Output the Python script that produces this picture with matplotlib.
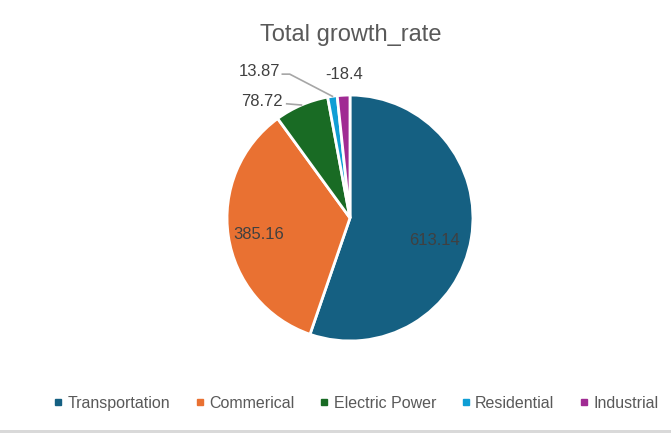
import numpy as np
import matplotlib
matplotlib.use('Agg')
import matplotlib.pyplot as plt
from matplotlib.lines import Line2D
from matplotlib.patches import Rectangle

# --- dane ---
categories = ['Transportation', 'Commerical', 'Electric Power', 'Residential', 'Industrial']
values = [613.14, 385.16, 78.72, 13.87, -18.4]
colors = ['#156082', '#E97132', '#196B24', '#0F9ED5', '#A02B93']
label_texts = ['613.14', '385.16', '78.72', '13.87', '-18.4']

plt.rcParams['font.family'] = ['Liberation Sans', 'DejaVu Sans']

fig = plt.figure(figsize=(6.71, 4.33), dpi=100)
ax = fig.add_axes([0.3383, 0.2125, 0.3666, 0.568])

# Excel rysuje wartosci ujemne jako wartosc bezwzgledna
sizes = [abs(v) for v in values]
wedges, _ = ax.pie(sizes, colors=colors, startangle=90, counterclock=False,
                   wedgeprops=dict(edgecolor='white', linewidth=2))
ax.set_xlim(-1, 1)
ax.set_ylim(-1, 1)
ax.set_aspect('equal')
ax.axis('off')

txt_color = '#404040'
lead_color = '#A6A6A6'

def mid_angle(w):
    return np.deg2rad((w.theta1 + w.theta2) / 2)

# etykiety wewnatrz
for i, r, dy in [(0, 0.70, -0.07), (1, 0.75, -0.02)]:
    a = mid_angle(wedges[i])
    ax.text(r * np.cos(a), r * np.sin(a) + dy, label_texts[i], ha='center', va='center',
            fontsize=12, color=txt_color)

# etykiety na zewnatrz z liniami
a = mid_angle(wedges[2])
ex, ey = np.cos(a), np.sin(a)
ax.plot([ex, ex - 0.12], [ey, ey + 0.01], color=lead_color, lw=1.2, clip_on=False)
ax.text(ex - 0.15, ey + 0.03, label_texts[2], ha='right', va='center', fontsize=12, color=txt_color)

a = mid_angle(wedges[3])
ex, ey = np.cos(a), np.sin(a)
ax.plot([ex, -0.49, -0.55], [ey, 1.17, 1.17], color=lead_color, lw=1.2, clip_on=False)
ax.text(-0.57, 1.19, label_texts[3], ha='right', va='center', fontsize=12, color=txt_color)

ax.text(-0.05, 1.17, label_texts[4], ha='center', va='center', fontsize=12, color=txt_color)

fig.text(0.522, 0.92, 'Total growth_rate', ha='center', va='center', fontsize=17,
         color='#595959')

handles = [Line2D([], [], marker='s', linestyle='none', markersize=5,
                  markerfacecolor=c, markeredgecolor=c) for c in colors]
fig.legend(handles, categories, loc='center', bbox_to_anchor=(0.531, 0.069), ncol=5,
           frameon=False, fontsize=11.5, handlelength=0.5, handletextpad=0.35,
           columnspacing=1.6, labelcolor='#595959')

# szara linia na dole
fig.add_artist(Rectangle((0, 0), 1, 0.007, transform=fig.transFigure,
                         facecolor='#D9D9D9', edgecolor='none'))

fig.savefig('out.png', dpi=100)
